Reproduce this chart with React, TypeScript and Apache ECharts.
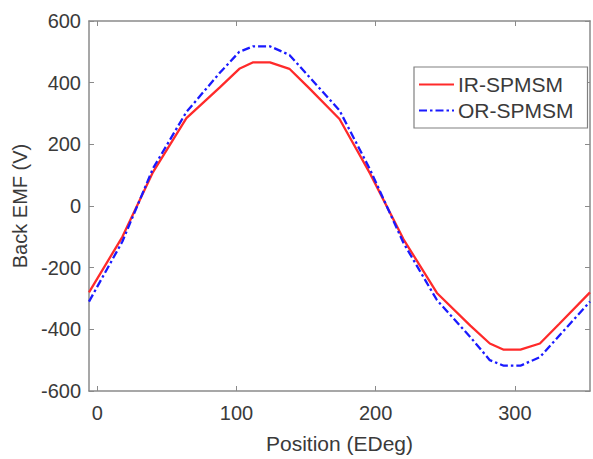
import React, { useEffect, useRef } from "react";
import * as echarts from "echarts";

const positions = [-6, 18, 40, 64, 88, 102, 112, 124, 138, 152, 174, 196, 220, 244, 268, 282, 292, 304, 318, 332, 354];
const irSpmsm = [-280, -100, 110, 285, 385, 445, 466, 466, 445, 383, 282, 105, -108, -282, -388, -446, -466, -466, -446, -382, -280];
const orSpmsm = [-310, -115, 122, 305, 432, 500, 518, 518, 490, 420, 310, 118, -120, -305, -425, -500, -518, -518, -490, -420, -310];
const xTicks = [0, 100, 200, 300];
const seriesNames = ["IR-SPMSM", "OR-SPMSM"];

const FONT = "'Liberation Sans', Arial, sans-serif";
const TEXT = "#3a3a3a";
const AXIS = "#8a8a8a";

export default function App() {
  const ref = useRef<HTMLDivElement>(null);
  useEffect(() => {
    if (!ref.current) return;
    const chart = echarts.init(ref.current, null, { renderer: "svg" });
    const xBase = {
      type: "value" as const,
      min: -6,
      max: 354,
      splitLine: { show: false },
      axisLine: { show: true, onZero: false, lineStyle: { color: AXIS, width: 1.5 } },
      axisTick: { show: true, inside: true, length: 5, customValues: xTicks, lineStyle: { color: AXIS } },
    };
    const yBase = {
      type: "value" as const,
      min: -600,
      max: 600,
      interval: 200,
      splitLine: { show: false },
      axisLine: { show: true, onZero: false, lineStyle: { color: AXIS, width: 1.5 } },
      axisTick: { show: true, inside: true, length: 5, lineStyle: { color: AXIS } },
    };
    chart.setOption({
      animation: false,
      backgroundColor: "#ffffff",
      textStyle: { fontFamily: FONT },
      grid: { left: 89, right: 3, top: 21, bottom: 67, containLabel: false },
      legend: {
        data: seriesNames,
        orient: "vertical",
        left: 414,
        top: 67,
        width: 171,
        padding: [7, 14, 7, 4],
        itemGap: 5,
        itemWidth: 35,
        itemHeight: 14,
        itemStyle: { opacity: 0 },
        borderColor: "#808080",
        borderWidth: 1.2,
        backgroundColor: "#ffffff",
        textStyle: { fontSize: 21, color: TEXT, fontFamily: FONT, padding: [0, 0, 0, -1] },
      },
      xAxis: [
        {
          ...xBase,
          position: "bottom",
          name: "Position (EDeg)",
          nameLocation: "middle",
          nameGap: 42,
          nameTextStyle: { fontSize: 21, color: TEXT, fontFamily: FONT },
          axisLabel: { show: true, customValues: xTicks, fontSize: 20, color: TEXT, margin: 12, fontFamily: FONT },
        },
        {
          ...xBase,
          position: "top",
          axisLabel: { show: false },
        },
      ],
      yAxis: [
        {
          ...yBase,
          position: "left",
          name: "Back EMF (V)",
          nameLocation: "middle",
          nameGap: 54,
          nameTextStyle: { fontSize: 20, color: TEXT, fontFamily: FONT },
          axisLabel: { show: true, fontSize: 20, color: TEXT, margin: 8, fontFamily: FONT },
        },
        {
          ...yBase,
          position: "right",
          axisLabel: { show: false },
        },
      ],
      series: [
        {
          name: seriesNames[0],
          type: "line",
          data: positions.map((x, i) => [x, irSpmsm[i]]),
          showSymbol: false,
          symbol: "none",
          lineStyle: { color: "#ff2a2a", width: 2.3 },
          itemStyle: { color: "#ff2a2a" },
        },
        {
          name: seriesNames[1],
          type: "line",
          data: positions.map((x, i) => [x, orSpmsm[i]]),
          showSymbol: false,
          symbol: "none",
          lineStyle: { color: "#1a1aff", width: 2.3, type: [8, 3, 2.5, 3] },
          itemStyle: { color: "#1a1aff" },
        },
      ],
    });
    return () => chart.dispose();
  }, []);
  return (
    <div
      ref={ref}
      style={{ position: "absolute", left: 0, top: 0, width: 593, height: 459, background: "#fff" }}
    />
  );
}
